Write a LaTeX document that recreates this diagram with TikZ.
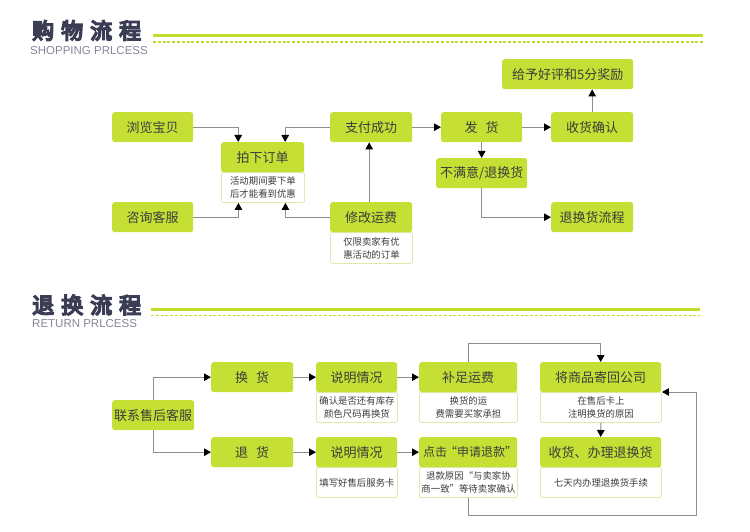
\documentclass[tikz,border=0pt]{standalone}
\usepackage{fontspec}
\setmainfont{Noto Sans CJK SC}
\newfontfamily\titlefont[FakeBold=7]{Noto Sans CJK SC}
\newfontfamily\latinfont{Liberation Sans}
\usetikzlibrary{arrows.meta}
\definecolor{boxgreen}{HTML}{C6DF34}
\definecolor{linegreen}{HTML}{BFDD2C}
\definecolor{descline}{HTML}{DCEBAE}
\definecolor{txt}{HTML}{3C3C3C}
\definecolor{connc}{HTML}{8E8E8E}
\definecolor{titlec}{HTML}{3B3D55}
\definecolor{subc}{HTML}{85869A}
\tikzset{
  hbox/.style={fill=boxgreen, rounded corners=2.5pt, inner sep=0pt, anchor=north west,
    text=txt, font=\fontsize{13}{15}\selectfont, align=center},
  dbox/.style={draw=descline, line width=0.9pt, fill=white, rounded corners=2pt, inner sep=0pt,
    anchor=north west, text=txt, font=\fontsize{9.4}{13}\selectfont, align=center},
  connector/.style={draw=connc, line width=1pt, -{Triangle[width=7.5pt,length=7pt,color=black]}},
  titletext/.style={anchor=west, text=titlec, font=\titlefont\fontsize{22}{22}\selectfont, inner sep=0pt},
  subtext/.style={anchor=west, text=subc, font=\latinfont\fontsize{11.5}{12}\selectfont, inner sep=0pt},
  thickgreen/.style={draw=linegreen, line width=3pt},
  dotgreen/.style={draw=linegreen, line width=1.8pt, dash pattern=on 3pt off 1.8pt},
}
\begin{document}
\begin{tikzpicture}[x=1pt,y=-1pt]
\useasboundingbox (0,0) rectangle (750,532);

% ---------- titles ----------
\node[titletext] (t1) at (32,30.5) {购\hspace{7pt}物\hspace{7pt}流\hspace{7pt}程};
\node[subtext] (s1) at (30,51) {SHOPPING PRLCESS};
\draw[thickgreen] (153,35.3) -- (703,35.3);
\draw[dotgreen] (153,41.7) -- (703,41.7);

\node[titletext] (t2) at (32,305) {退\hspace{7pt}换\hspace{7pt}流\hspace{7pt}程};
\node[subtext] (s2) at (32,323.5) {RETURN PRLCESS};
\draw[thickgreen] (151,309.2) -- (700,309.2);
\draw[dotgreen] (151,315.5) -- (700,315.5);

% ---------- shopping flow ----------
\node[hbox, minimum width=81, minimum height=30] (browse) at (112,112) {浏览宝贝};
\node[dbox, minimum width=83, minimum height=30] (orderd) at (221,172) {活动期间要下单\\后才能看到优惠};
\node[hbox, minimum width=83, minimum height=30] (order) at (221,142) {拍下订单};
\node[hbox, minimum width=81, minimum height=30] (consult) at (112,202) {咨询客服};
\node[hbox, minimum width=82, minimum height=30] (pay) at (330,112) {支付成功};
\node[dbox, minimum width=82, minimum height=31] (modifyd) at (330,232) {仅限卖家有优\\惠活动的订单};
\node[hbox, minimum width=82, minimum height=30] (modify) at (330,202) {修改运费};
\node[hbox, minimum width=81, minimum height=30] (ship) at (441,112) {发\hspace{8pt}货};
\node[hbox, minimum width=82, minimum height=30] (confirm) at (551,112) {收货确认};
\node[hbox, minimum width=131, minimum height=30] (praise) at (502,59) {给予好评和5分奖励};
\node[hbox, minimum width=91, minimum height=30] (unsat) at (436,158) {不满意/退换货};
\node[hbox, minimum width=82, minimum height=30] (retflow) at (551,202) {退换货流程};

\draw[connector] (browse.east) -| ([xshift=-24.5pt]order.north);
\draw[connector] (pay.west) -| ([xshift=22.5pt]order.north);
\draw[connector] (consult.east) -| ([xshift=-24.5pt]orderd.south);
\draw[connector] (modify.west) -| ([xshift=22.5pt]orderd.south);
\draw[connector] ([xshift=-2pt]modify.north) -- ([xshift=-2pt]pay.south);
\draw[connector] (pay.east) -- (ship.west);
\draw[connector] (ship.east) -- (confirm.west);
\draw[connector] (confirm.north) -- (confirm.north |- praise.south);
\draw[connector] (ship.south) -- (unsat.north);
\draw[connector] (unsat.south) |- (retflow.west);

% ---------- return flow ----------
\node[hbox, minimum width=82, minimum height=30] (contact) at (112,400) {联系售后客服};
\node[hbox, minimum width=82, minimum height=30] (exch) at (211,362) {换\hspace{8pt}货};
\node[hbox, minimum width=82, minimum height=30] (refund) at (211,437) {退\hspace{8pt}货};
\node[dbox, minimum width=81, minimum height=30] (exp1d) at (316,392) {确认是否还有库存\\颜色尺码再换货};
\node[hbox, minimum width=81, minimum height=30] (exp1) at (316,362) {说明情况};
\node[dbox, minimum width=81, minimum height=30] (exp2d) at (316,467) {填写好售后服务卡};
\node[hbox, minimum width=81, minimum height=30] (exp2) at (316,437) {说明情况};
\node[dbox, minimum width=98, minimum height=30] (feed) at (419,392) {换货的运\\费需要买家承担};
\node[hbox, minimum width=98, minimum height=30] (fee) at (419,362) {补足运费};
\node[dbox, minimum width=98, minimum height=30] (clickd) at (419,467) {退款原因“与卖家协\\商一致”等待卖家确认};
\node[hbox, minimum width=98, minimum height=30, font=\fontsize{12}{15}\selectfont] (click) at (419,437) {点击\kern-2pt“申请退款”\kern-4pt};
\node[dbox, minimum width=121, minimum height=30] (sendd) at (540,392) {在售后卡上\\注明换货的原因};
\node[hbox, minimum width=121, minimum height=30] (send) at (540,362) {将商品寄回公司};
\node[dbox, minimum width=121, minimum height=30] (recvd) at (540,467) {七天内办理退换货手续};
\node[hbox, minimum width=121, minimum height=30] (recv) at (540,437) {收货、办理退换货};

\coordinate (loop) at (696,515);

\draw[connector] (contact.north) |- (exch.west);
\draw[connector] (contact.south) |- (refund.west);
\draw[connector] (exch.east) -- (exp1.west);
\draw[connector] (exp1.east) -- (fee.west);
\draw[connector] (refund.east) -- (exp2.west);
\draw[connector] (exp2.east) -- (click.west);
\draw[connector] (fee.north) -- ++(0,-19) -| (send.north);
\draw[connector] (sendd.south) -- (recv.north);
\draw[connector] (clickd.south) |- (loop) |- (sendd.north east);
\end{tikzpicture}
\end{document}
